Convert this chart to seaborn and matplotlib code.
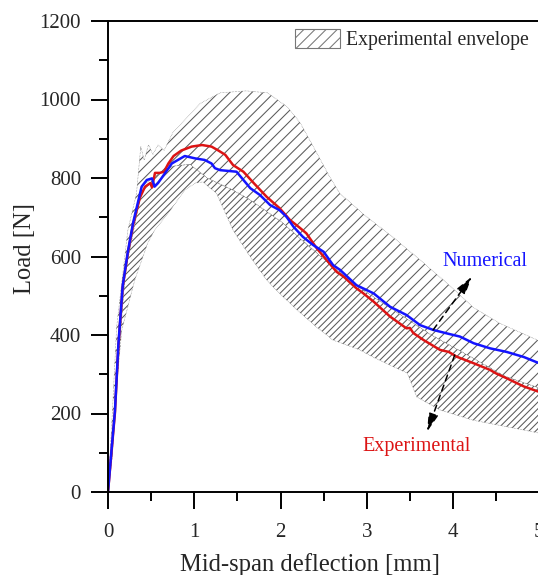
import matplotlib
matplotlib.use("Agg")
import matplotlib.pyplot as plt
import matplotlib.patches as mpatches
from matplotlib.ticker import MultipleLocator
import numpy as np
import pandas as pd
import seaborn as sns

# experimental mean curve (red)
exp_defl = [0, 0.04, 0.08, 0.12, 0.17, 0.23, 0.29, 0.37, 0.43, 0.49, 0.51, 0.545, 0.60, 0.65,
            0.70, 0.76, 0.85, 0.97, 1.09, 1.20, 1.28, 1.36, 1.45, 1.57, 1.69, 1.84, 1.99, 2.11,
            2.23, 2.30, 2.42, 2.50, 2.65, 2.73, 2.88, 2.95, 3.08, 3.27, 3.46, 3.50, 3.54, 3.66,
            3.85, 3.95, 4.04, 4.24, 4.43, 4.50, 4.62, 4.82, 5.0]
exp_load = [0, 100, 201, 370, 522, 609, 680, 750, 778, 787, 776, 813, 813, 816,
            837, 856, 870, 880, 884, 880, 870, 859, 833, 816, 787, 752, 723, 693,
            672, 659, 621, 600, 561, 549, 519, 508, 485, 447, 417, 418, 405, 387,
            362, 357, 345, 328, 311, 302, 290, 269, 255]

# numerical curve (blue)
num_defl = [0, 0.04, 0.08, 0.12, 0.17, 0.23, 0.29, 0.39, 0.45, 0.51, 0.54, 0.58, 0.66, 0.74,
            0.89, 1.01, 1.12, 1.20, 1.24, 1.30, 1.49, 1.57, 1.65, 1.76, 1.88, 1.99, 2.07,
            2.15, 2.26, 2.38, 2.50, 2.61, 2.69, 2.88, 3.08, 3.27, 3.46, 3.62, 3.77, 3.93,
            4.08, 4.24, 4.43, 4.62, 4.82, 5.0]
num_load = [0, 105, 205, 375, 525, 612, 685, 778, 795, 799, 778, 787, 812, 837,
            856, 850, 846, 837, 825, 820, 816, 795, 774, 757, 731, 718, 701,
            676, 650, 629, 612, 578, 566, 527, 506, 472, 451, 425, 413, 404,
            396, 379, 366, 357, 344, 328]

# experimental envelope: upper bound, split line, lower bound
env_up_x = [0, 0.05, 0.10, 0.23, 0.33, 0.38, 0.42, 0.47, 0.52, 0.58, 0.65, 0.75, 0.90, 1.07,
            1.30, 1.60, 1.85, 2.08, 2.23, 2.42, 2.57, 2.69, 3.00, 3.30, 3.62, 3.93, 4.23,
            4.54, 5.0]
env_up_y = [0, 200, 420, 667, 760, 880, 845, 885, 860, 884, 870, 915, 950, 990,
            1017, 1022, 1017, 981, 940, 864, 803, 760, 701, 650, 591, 532, 471,
            430, 385]
env_mid_x = [0, 0.2, 0.4, 0.55, 0.75, 0.95, 1.15, 1.45, 1.65, 2.03, 2.34, 2.61, 2.92, 3.3,
             3.75, 4.2, 4.6, 5.0]
env_mid_y = [0, 560, 780, 805, 830, 835, 800, 769, 744, 685, 624, 573, 520, 465,
             400, 345, 295, 265]
env_lo_x = [0, 0.05, 0.10, 0.16, 0.31, 0.46, 0.54, 0.70, 0.89, 1.01, 1.10, 1.26, 1.45, 1.65,
            1.84, 2.03, 2.23, 2.42, 2.61, 2.92, 3.07, 3.30, 3.47, 3.58, 3.85, 4.23, 4.63, 5.0]
env_lo_y = [0, 90, 270, 413, 540, 634, 667, 711, 769, 787, 790, 760, 667, 599,
            540, 497, 456, 420, 387, 362, 344, 320, 303, 242, 209, 183, 166, 150]

sns.set_style("ticks")
plt.rcParams["font.family"] = ["Liberation Serif", "DejaVu Serif"]
plt.rcParams["hatch.linewidth"] = 0.75

fig = plt.figure(figsize=(5.38, 5.75), dpi=100)
ax = fig.add_axes([108 / 538, 1 - 492 / 575, 431.25 / 538, 471 / 575])

hatch_col = "#5a5a5a"
ax.fill(np.concatenate([env_up_x, env_mid_x[::-1]]), np.concatenate([env_up_y, env_mid_y[::-1]]),
        facecolor="none", edgecolor=hatch_col, hatch="///", linewidth=0.4, linestyle=":")
ax.fill(np.concatenate([env_mid_x, env_lo_x[::-1]]), np.concatenate([env_mid_y, env_lo_y[::-1]]),
        facecolor="none", edgecolor=hatch_col, hatch="/////", linewidth=0.4, linestyle=":")

exp_df = pd.DataFrame({"defl": exp_defl, "load": exp_load})
num_df = pd.DataFrame({"defl": num_defl, "load": num_load})
sns.lineplot(data=exp_df, x="defl", y="load", sort=False, estimator=None, color="#dc1414", lw=1.8, ax=ax)
sns.lineplot(data=num_df, x="defl", y="load", sort=False, estimator=None, color="#1414ff", lw=1.8, ax=ax)

ax.set_xlim(0, 5)
ax.set_ylim(0, 1200)
ax.xaxis.set_major_locator(MultipleLocator(1))
ax.xaxis.set_minor_locator(MultipleLocator(0.5))
ax.yaxis.set_major_locator(MultipleLocator(200))
ax.yaxis.set_minor_locator(MultipleLocator(100))
ax.tick_params(which="major", length=12.5, width=1.4, labelsize=15, color="black")
ax.tick_params(which="minor", length=6.5, width=1.4, color="black")
ax.tick_params(axis="x", which="major", pad=10)
ax.tick_params(axis="y", which="major", pad=7)
for s in ax.spines.values():
    s.set_linewidth(1.4)
    s.set_color("black")

ax.set_xlabel("Mid-span deflection [mm]", fontsize=17.7)
ax.set_ylabel("Load [N]", fontsize=17.7)
ax.xaxis.set_label_coords(0.468, -0.1295)
ax.yaxis.set_label_coords(-0.168, 0.518)

# annotations
arrow_kw = dict(arrowstyle="-|>,head_length=0.55,head_width=0.15", linestyle=(0, (4, 3)),
                color="black", lw=1.1, mutation_scale=20, shrinkA=0, shrinkB=0)
ax.annotate("", xy=(4.22, 549), xytext=(3.77, 413), arrowprops=arrow_kw)
ax.annotate("", xy=(3.70, 154), xytext=(4.02, 349), arrowprops=arrow_kw)
ax.text(4.37, 586, "Numerical", color="#1414ff", fontsize=14.5, ha="center", va="center")
ax.text(3.58, 115, "Experimental", color="#dc1414", fontsize=14.5, ha="center", va="center")

env_handle = mpatches.Patch(facecolor="white", edgecolor="#777777", hatch="///", linewidth=0.8,
                            label="Experimental envelope")
ax.legend(handles=[env_handle], loc="upper left", bbox_to_anchor=(285 / 538, 1 - 19 / 575),
          bbox_transform=fig.transFigure, frameon=False, fontsize=14.2, borderpad=0,
          handlelength=2.3, handleheight=1.1, handletextpad=0.3)

fig.savefig("out.png", dpi=100)
plt.close(fig)
